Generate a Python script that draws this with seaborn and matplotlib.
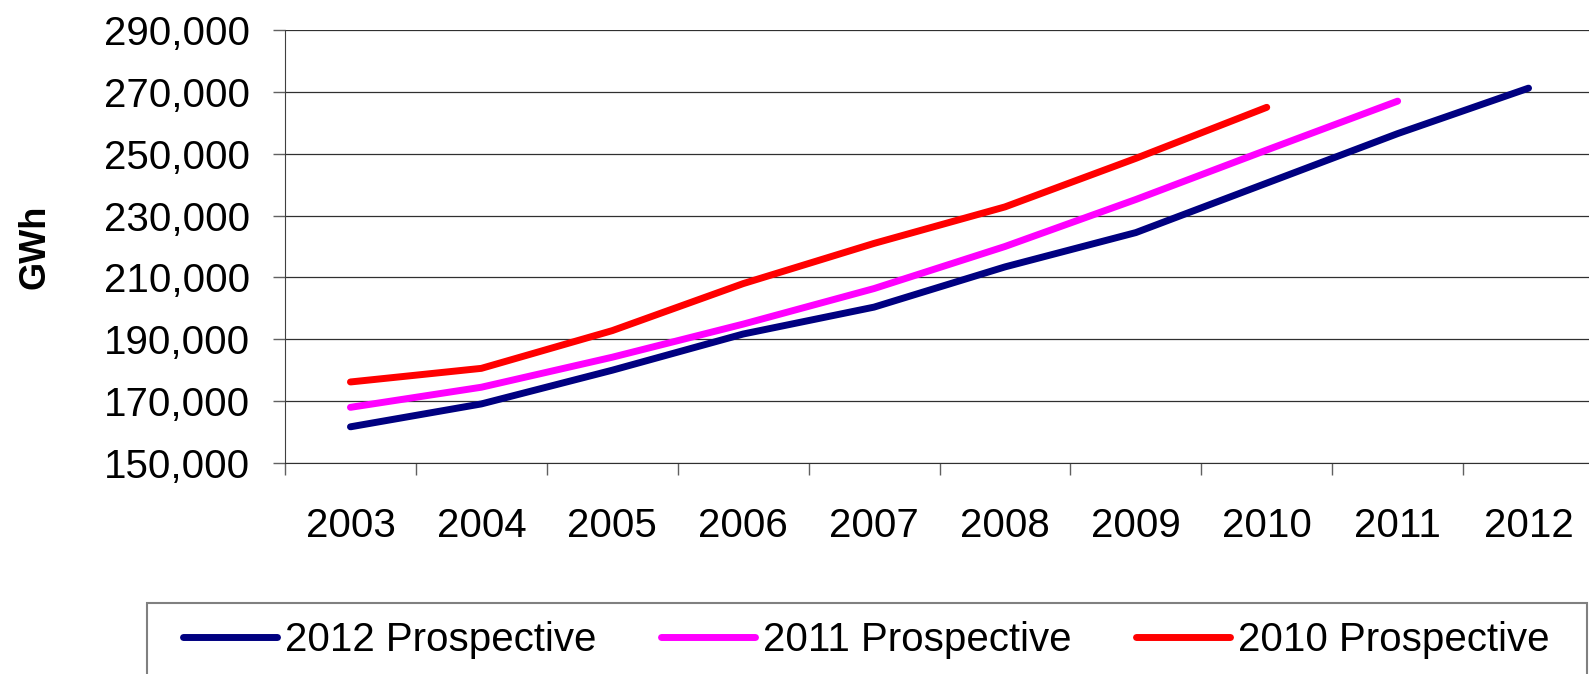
import numpy as np
import pandas as pd
import matplotlib
matplotlib.use("Agg")
import matplotlib.pyplot as plt
import seaborn as sns
from matplotlib.patches import Rectangle
from matplotlib.ticker import FuncFormatter

# ---- data (GWh) ----
years = [2003, 2004, 2005, 2006, 2007, 2008, 2009, 2010, 2011, 2012]
series_names = ["2012 Prospective", "2011 Prospective", "2010 Prospective"]
p2012 = [161700, 169100, 180000, 191700, 200400, 213400, 224500, 240500, 256500, 271200]
p2011 = [168000, 174500, 184200, 194900, 206400, 220000, 235200, 251200, 267000, np.nan]
p2010 = [176200, 180600, 192800, 208000, 221000, 232800, 248500, 265000, np.nan, np.nan]
colors = ["#000080", "#FF00FF", "#FF0000"]
yticks = [150000, 170000, 190000, 210000, 230000, 250000, 270000, 290000]

rows = []
for name, vals in zip(series_names, [p2012, p2011, p2010]):
    for yr, v in zip(years, vals):
        rows.append({"Year": yr, "GWh": v, "Series": name})
df = pd.DataFrame(rows).dropna()

sns.set_style("white")
plt.rcParams["font.family"] = ["Liberation Sans", "DejaVu Sans"]
plt.rcParams["text.color"] = "black"
plt.rcParams["xtick.labelcolor"] = "black"
plt.rcParams["ytick.labelcolor"] = "black"
plt.rcParams["axes.labelcolor"] = "black"

W, H = 1589, 674
fig = plt.figure(figsize=(W / 100, H / 100), dpi=100)
ax = fig.add_axes([285 / W, 211 / H, 1309 / W, 433 / H])

sns.lineplot(data=df, x="Year", y="GWh", hue="Series", hue_order=series_names,
             palette=colors, linewidth=5, ax=ax, legend=False, sort=False)
for ln in ax.lines:
    ln.set_solid_capstyle("round")
    ln.set_solid_joinstyle("round")

ax.set_xlim(2002.5, 2012.5)
ax.set_ylim(yticks[0], yticks[-1])
ax.set_yticks(yticks)
ax.yaxis.set_major_formatter(FuncFormatter(lambda v, p: f"{int(v):,}"))
ax.set_xticks(years)
ax.set_xticklabels([str(y) for y in years])
ax.set_xticks(np.arange(2002.5, 2013.0, 1.0), minor=True)

ax.tick_params(axis="x", which="major", length=0, pad=31.5, labelsize=29,
               bottom=True, labelcolor="black")
ax.tick_params(axis="x", which="minor", length=8.6, width=1, color="#606060",
               direction="out", bottom=True)
ax.tick_params(axis="y", which="major", length=8.6, width=1, color="#606060",
               direction="out", pad=16.5, labelsize=29, left=True, labelcolor="black")

ax.grid(axis="y", color="#303030", linewidth=0.9)
ax.grid(axis="x", visible=False)
ax.set_axisbelow(True)
ax.spines["top"].set_visible(False)
ax.spines["right"].set_visible(False)
ax.spines["left"].set_color("#404040")
ax.spines["bottom"].set_color("#303030")

ax.set_xlabel("")
ax.set_ylabel("GWh", fontsize=26, fontweight="bold", color="black")
ax.yaxis.set_label_coords(-0.1775, 0.5)

leg = fig.legend(handles=ax.lines[:3], labels=series_names, loc="center left",
                 bbox_to_anchor=(183 / W, 1 - 640 / H), ncol=3, frameon=False,
                 fontsize=29, handlelength=2.33, handletextpad=0.2, columnspacing=1.61,
                 borderpad=0, borderaxespad=0)
for t in leg.get_texts():
    t.set_color("black")
fig.add_artist(Rectangle((147 / W, -0.05), (1587 - 147) / W, (1 - 602.7 / H) + 0.05,
                         transform=fig.transFigure, fill=False, edgecolor="#808080",
                         linewidth=1.5, clip_on=False))

fig.savefig("out.png", dpi=100)
